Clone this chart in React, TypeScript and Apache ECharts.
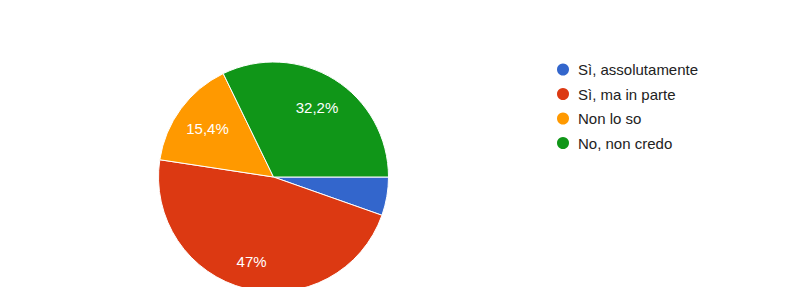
import React, { useEffect, useRef } from "react";
import * as echarts from "echarts";

const categories = ["Sì, assolutamente", "Sì, ma in parte", "Non lo so", "No, non credo"];
const values = [5.4, 47, 15.4, 32.2];
const labels = ["", "47%", "15,4%", "32,2%"];
const colors = ["#3366cc", "#dc3912", "#ff9900", "#109618"];

export default function App() {
  const ref = useRef<HTMLDivElement>(null);
  useEffect(() => {
    if (!ref.current) return;
    const chart = echarts.init(ref.current, undefined, { renderer: "svg" });
    const font = "Arial, 'Liberation Sans', sans-serif";
    chart.setOption({
      animation: false,
      backgroundColor: "#ffffff",
      color: colors,
      legend: {
        orient: "vertical",
        left: 555,
        top: 61.5,
        padding: 0,
        icon: "circle",
        itemWidth: 20,
        itemHeight: 14,
        itemGap: 8.5,
        data: categories,
        textStyle: { fontFamily: font, fontSize: 15, color: "#222222" },
        selectedMode: false,
      },
      series: [
        {
          type: "pie",
          center: [273.5, 177],
          radius: [0, 115],
          startAngle: 0,
          clockwise: true,
          silent: true,
          label: { show: false },
          labelLine: { show: false },
          itemStyle: { borderColor: "#ffffff", borderWidth: 1 },
          data: categories.map((name, i) => ({ name, value: values[i] })),
        },
        {
          type: "pie",
          center: [273.5, 177],
          radius: [0, 158],
          startAngle: 0,
          clockwise: true,
          silent: true,
          avoidLabelOverlap: false,
          itemStyle: { color: "transparent" },
          labelLine: { show: false },
          label: {
            show: true,
            position: "inside",
            fontFamily: font,
            fontSize: 15,
            color: "#ffffff",
            formatter: (p: any) => labels[p.dataIndex],
          },
          labelLayout: (p: any) => (p.dataIndex === 1 ? { dx: -2, dy: 5 } : {}),
          data: categories.map((name, i) => ({ name, value: values[i] })),
        },
      ],
    });
    return () => chart.dispose();
  }, []);
  return (
    <div
      ref={ref}
      style={{ position: "fixed", left: 0, top: 0, width: 802, height: 287 }}
    />
  );
}
